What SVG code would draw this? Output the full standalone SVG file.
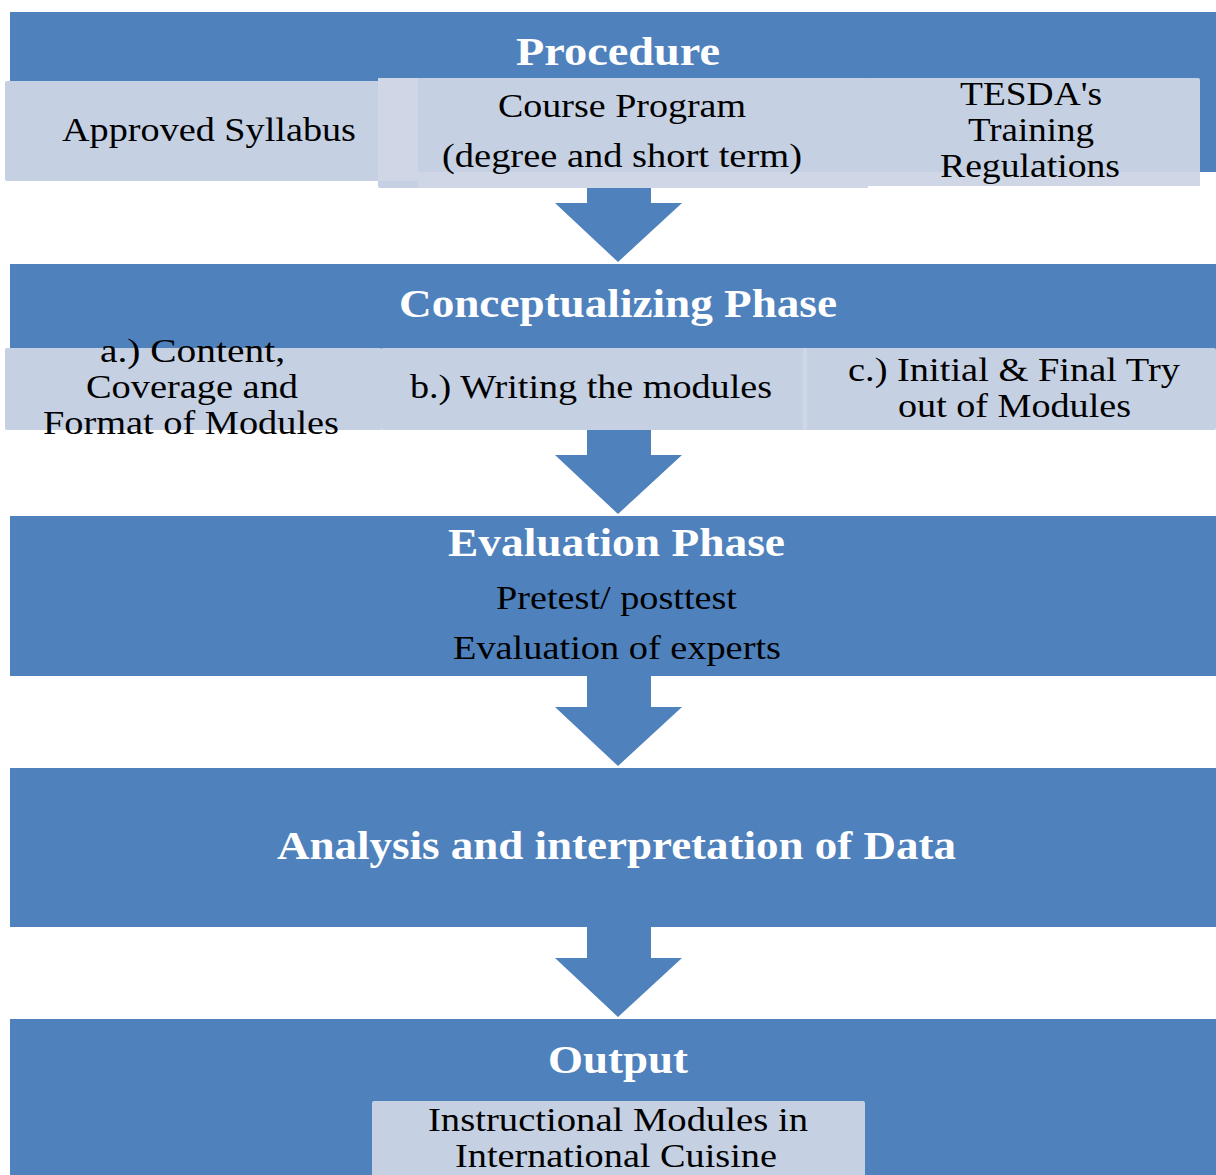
<svg xmlns="http://www.w3.org/2000/svg" width="1216" height="1175" viewBox="0 0 1216 1175">
<defs>
<style>
.bar{fill:#4f81bd}
.box{fill:#c5d0e3}
.ov{fill:#cfd7e6}
.arr{fill:#4f81bd}
.t{fill:#000;font-size:33px}
.h{fill:#fff;font-size:40px;font-weight:bold}
</style>
</defs>
<rect width="1216" height="1175" fill="#fff"/>
<g id="connectors">
<polygon class="arr" points="587,172 651,172 651,203 682,203 618,262 555,203 587,203"/>
<polygon class="arr" points="587,424 651,424 651,455 682,455 618,514 555,455 587,455"/>
<polygon class="arr" points="587,676 651,676 651,707 682,707 618,766 555,707 587,707"/>
<polygon class="arr" points="587,927 651,927 651,958 682,958 618,1017 555,958 587,958"/>
</g>
<g font-family="'Times New Roman', 'Liberation Serif', serif">
<g id="procedure">
<rect class="bar" x="10" y="12" width="1206" height="160"/>
<text class="h" x="516" y="65" textLength="204" lengthAdjust="spacingAndGlyphs">Procedure</text>
</g>
<g id="approved-syllabus">
<rect class="box" x="5" y="81" width="413" height="100" rx="2"/>
<text class="t" x="62" y="141" textLength="294" lengthAdjust="spacingAndGlyphs">Approved Syllabus</text>
</g>
<g id="course-program">
<rect class="box" x="378" y="78" width="490" height="110" rx="2"/>
<rect class="ov" x="378" y="78" width="40" height="103"/>
<rect class="ov" x="418" y="172" width="450" height="16"/>
<text class="t" x="498" y="117" textLength="248" lengthAdjust="spacingAndGlyphs">Course Program</text>
<text class="t" x="442" y="167" textLength="360" lengthAdjust="spacingAndGlyphs">(degree and short term)</text>
</g>
<g id="tesda">
<rect class="box" x="866" y="78" width="334" height="108" rx="2"/>
<rect class="ov" x="866" y="172" width="334" height="14"/>
<text class="t" x="960" y="105" textLength="142" lengthAdjust="spacingAndGlyphs">TESDA's</text>
<text class="t" x="968" y="141" textLength="126" lengthAdjust="spacingAndGlyphs">Training</text>
<text class="t" x="940" y="177" textLength="180" lengthAdjust="spacingAndGlyphs">Regulations</text>
</g>
<g id="conceptualizing">
<rect class="bar" x="10" y="264" width="1206" height="160"/>
<text class="h" x="399" y="317" textLength="438" lengthAdjust="spacingAndGlyphs">Conceptualizing  Phase</text>
</g>
<g id="content-coverage">
<rect class="box" x="5" y="348" width="377" height="82" rx="2"/>
<text class="t" x="100" y="362" textLength="185" lengthAdjust="spacingAndGlyphs">a.)  Content,</text>
<text class="t" x="86" y="398" textLength="212" lengthAdjust="spacingAndGlyphs">Coverage and</text>
<text class="t" x="43" y="434" textLength="296" lengthAdjust="spacingAndGlyphs">Format of Modules</text>
</g>
<g id="writing-modules">
<rect class="box" x="381" y="348" width="424" height="82" rx="2"/>
<text class="t" x="410" y="398" textLength="362" lengthAdjust="spacingAndGlyphs">b.) Writing  the modules</text>
</g>
<g id="tryout">
<rect class="box" x="804" y="348" width="412" height="82" rx="2"/>
<rect class="ov" x="803" y="348" width="4" height="82"/>
<text class="t" x="848" y="381" textLength="332" lengthAdjust="spacingAndGlyphs">c.) Initial &amp; Final Try</text>
<text class="t" x="898" y="417" textLength="233" lengthAdjust="spacingAndGlyphs">out of Modules</text>
</g>
<g id="evaluation">
<rect class="bar" x="10" y="516" width="1206" height="160"/>
<text class="h" x="448" y="556" textLength="337" lengthAdjust="spacingAndGlyphs">Evaluation  Phase</text>
<text class="t" x="496" y="609" textLength="241" lengthAdjust="spacingAndGlyphs">Pretest/ posttest</text>
<text class="t" x="453" y="659" textLength="328" lengthAdjust="spacingAndGlyphs">Evaluation  of experts</text>
</g>
<g id="analysis">
<rect class="bar" x="10" y="768" width="1206" height="159"/>
<text class="h" x="277" y="859" textLength="679" lengthAdjust="spacingAndGlyphs">Analysis  and interpretation of Data</text>
</g>
<g id="output">
<rect class="bar" x="10" y="1019" width="1206" height="160"/>
<text class="h" x="548" y="1073" textLength="140" lengthAdjust="spacingAndGlyphs">Output</text>
</g>
<g id="instructional-modules">
<rect class="box" x="372" y="1101" width="493" height="80" rx="2"/>
<text class="t" x="428" y="1131" textLength="380" lengthAdjust="spacingAndGlyphs">Instructional  Modules  in</text>
<text class="t" x="455" y="1167" textLength="322" lengthAdjust="spacingAndGlyphs">International  Cuisine</text>
</g>
</g>
</svg>
